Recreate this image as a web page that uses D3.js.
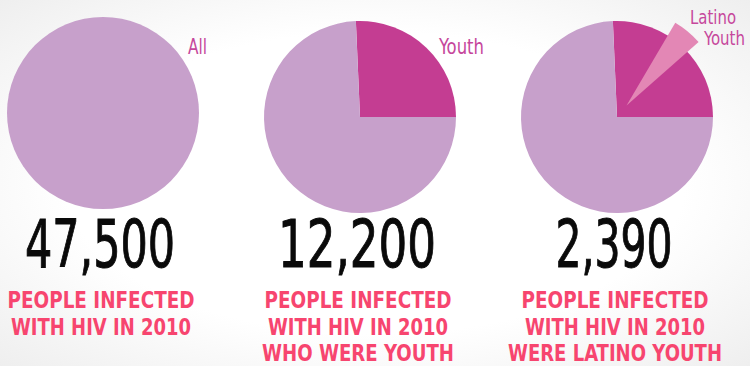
<!DOCTYPE html>
<html><head><meta charset="utf-8">
<script src="https://cdn.jsdelivr.net/npm/d3@7/dist/d3.min.js"></script>
<style>html,body{margin:0;padding:0;background:#fff;}svg{display:block;}</style>
</head><body><div id="chart"></div>
<script>
// ---- data ----
const categories = ["All", "Youth", "Latino Youth"];
const counts = [47500, 12200, 2390];
const labelLines = [["All"], ["Youth"], ["Latino", "Youth"]];
const captions = [
  ["PEOPLE INFECTED", "WITH HIV IN 2010"],
  ["PEOPLE INFECTED", "WITH HIV IN 2010", "WHO WERE YOUTH"],
  ["PEOPLE INFECTED", "WITH HIV IN 2010", "WERE LATINO YOUTH"]
];
const latinoStartDeg = 30.5; // where the exploded wedge sits

// ---- layout ----
const W = 750, H = 366;
const centers = [[103, 113], [360, 117], [617, 117]];
const R = 96;
const colors = { base: "#c7a0cb", youth: "#c43d92", latino: "#e387b5", label: "#c6479c", caption: "#f7456f" };
const numWidths = [150, 158, 117];
const capWidths = [[187, 180], [187, 180, 192], [187, 180, 214]];
// label lines: [x, y, width]
const labelLayout = [
  [[188, 54, 19]],
  [[439, 54, 45]],
  [[690, 24, 46], [704, 45, 41]]
];

const svg = d3.select("#chart").append("svg").attr("width", W).attr("height", H);
const defs = svg.append("defs");
const grad = defs.append("radialGradient").attr("id", "bg").attr("cx", "50%").attr("cy", "50%").attr("r", "75%");
grad.append("stop").attr("offset", "55%").attr("stop-color", "#ffffff");
grad.append("stop").attr("offset", "100%").attr("stop-color", "#ececec");
svg.append("rect").attr("width", W).attr("height", H).attr("fill", "url(#bg)");

const total = counts[0];
const angle = d3.scaleLinear().domain([0, total]).range([0, 2 * Math.PI]);
const arc = d3.arc().innerRadius(0).outerRadius(R);

categories.forEach((cat, i) => {
  const g = svg.append("g").attr("transform", `translate(${centers[i][0]},${centers[i][1]})`);
  const highlight = i === 0 ? 0 : counts[1];
  const start = Math.PI / 2 - angle(highlight);
  const pie = d3.pie().sort(null).value(d => d.v).startAngle(start).endAngle(start + 2 * Math.PI);
  const parts = pie([{ k: "youth", v: highlight }, { k: "rest", v: total - highlight }]);
  g.selectAll("path.slice").data(parts.filter(d => d.value > 0)).join("path")
    .attr("class", "slice")
    .attr("d", arc)
    .attr("fill", d => d.data.k === "youth" ? colors.youth : colors.base);

  if (i === 2) {
    const a0 = latinoStartDeg * Math.PI / 180;
    const a1 = a0 + angle(counts[2]);
    const mid = (a0 + a1) / 2;
    const off = 15;
    g.append("path")
      .attr("d", arc({ startAngle: a0, endAngle: a1 }))
      .attr("transform", `translate(${off * Math.sin(mid)},${-off * Math.cos(mid)})`)
      .attr("fill", colors.latino);
  }

  // category label
  labelLines[i].forEach((t, j) => {
    const [lx, ly, lw] = labelLayout[i][j];
    svg.append("text")
      .attr("x", lx).attr("y", ly)
      .attr("font-family", "'DejaVu Sans Condensed','Liberation Sans Narrow',sans-serif")
      .attr("fill", colors.label)
      .attr("font-size", i === 2 ? 19 : 21)
      .attr("textLength", lw)
      .attr("lengthAdjust", "spacingAndGlyphs")
      .text(t);
  });

  // big number
  svg.append("text")
    .attr("x", centers[i][0] - 3)
    .attr("y", 267)
    .attr("text-anchor", "middle")
    .attr("font-family", "'DejaVu Sans Condensed','DejaVu Sans',sans-serif")
    .attr("font-size", 66)
    .attr("fill", "#0a0a0a")
    .attr("stroke", "#0a0a0a").attr("stroke-width", 1)
    .attr("textLength", numWidths[i])
    .attr("lengthAdjust", "spacingAndGlyphs")
    .text(d3.format(",")(counts[i]));

  // caption
  captions[i].forEach((t, j) => {
    svg.append("text")
      .attr("x", centers[i][0] - 2)
      .attr("y", 308 + j * 26.5)
      .attr("text-anchor", "middle")
      .attr("font-family", "'DejaVu Sans Condensed','Liberation Sans Narrow',sans-serif")
      .attr("font-weight", "bold")
      .attr("font-size", 22.5)
      .attr("fill", colors.caption)
      .attr("textLength", capWidths[i][j])
      .attr("lengthAdjust", "spacingAndGlyphs")
      .text(t);
  });
});
</script></body></html>
